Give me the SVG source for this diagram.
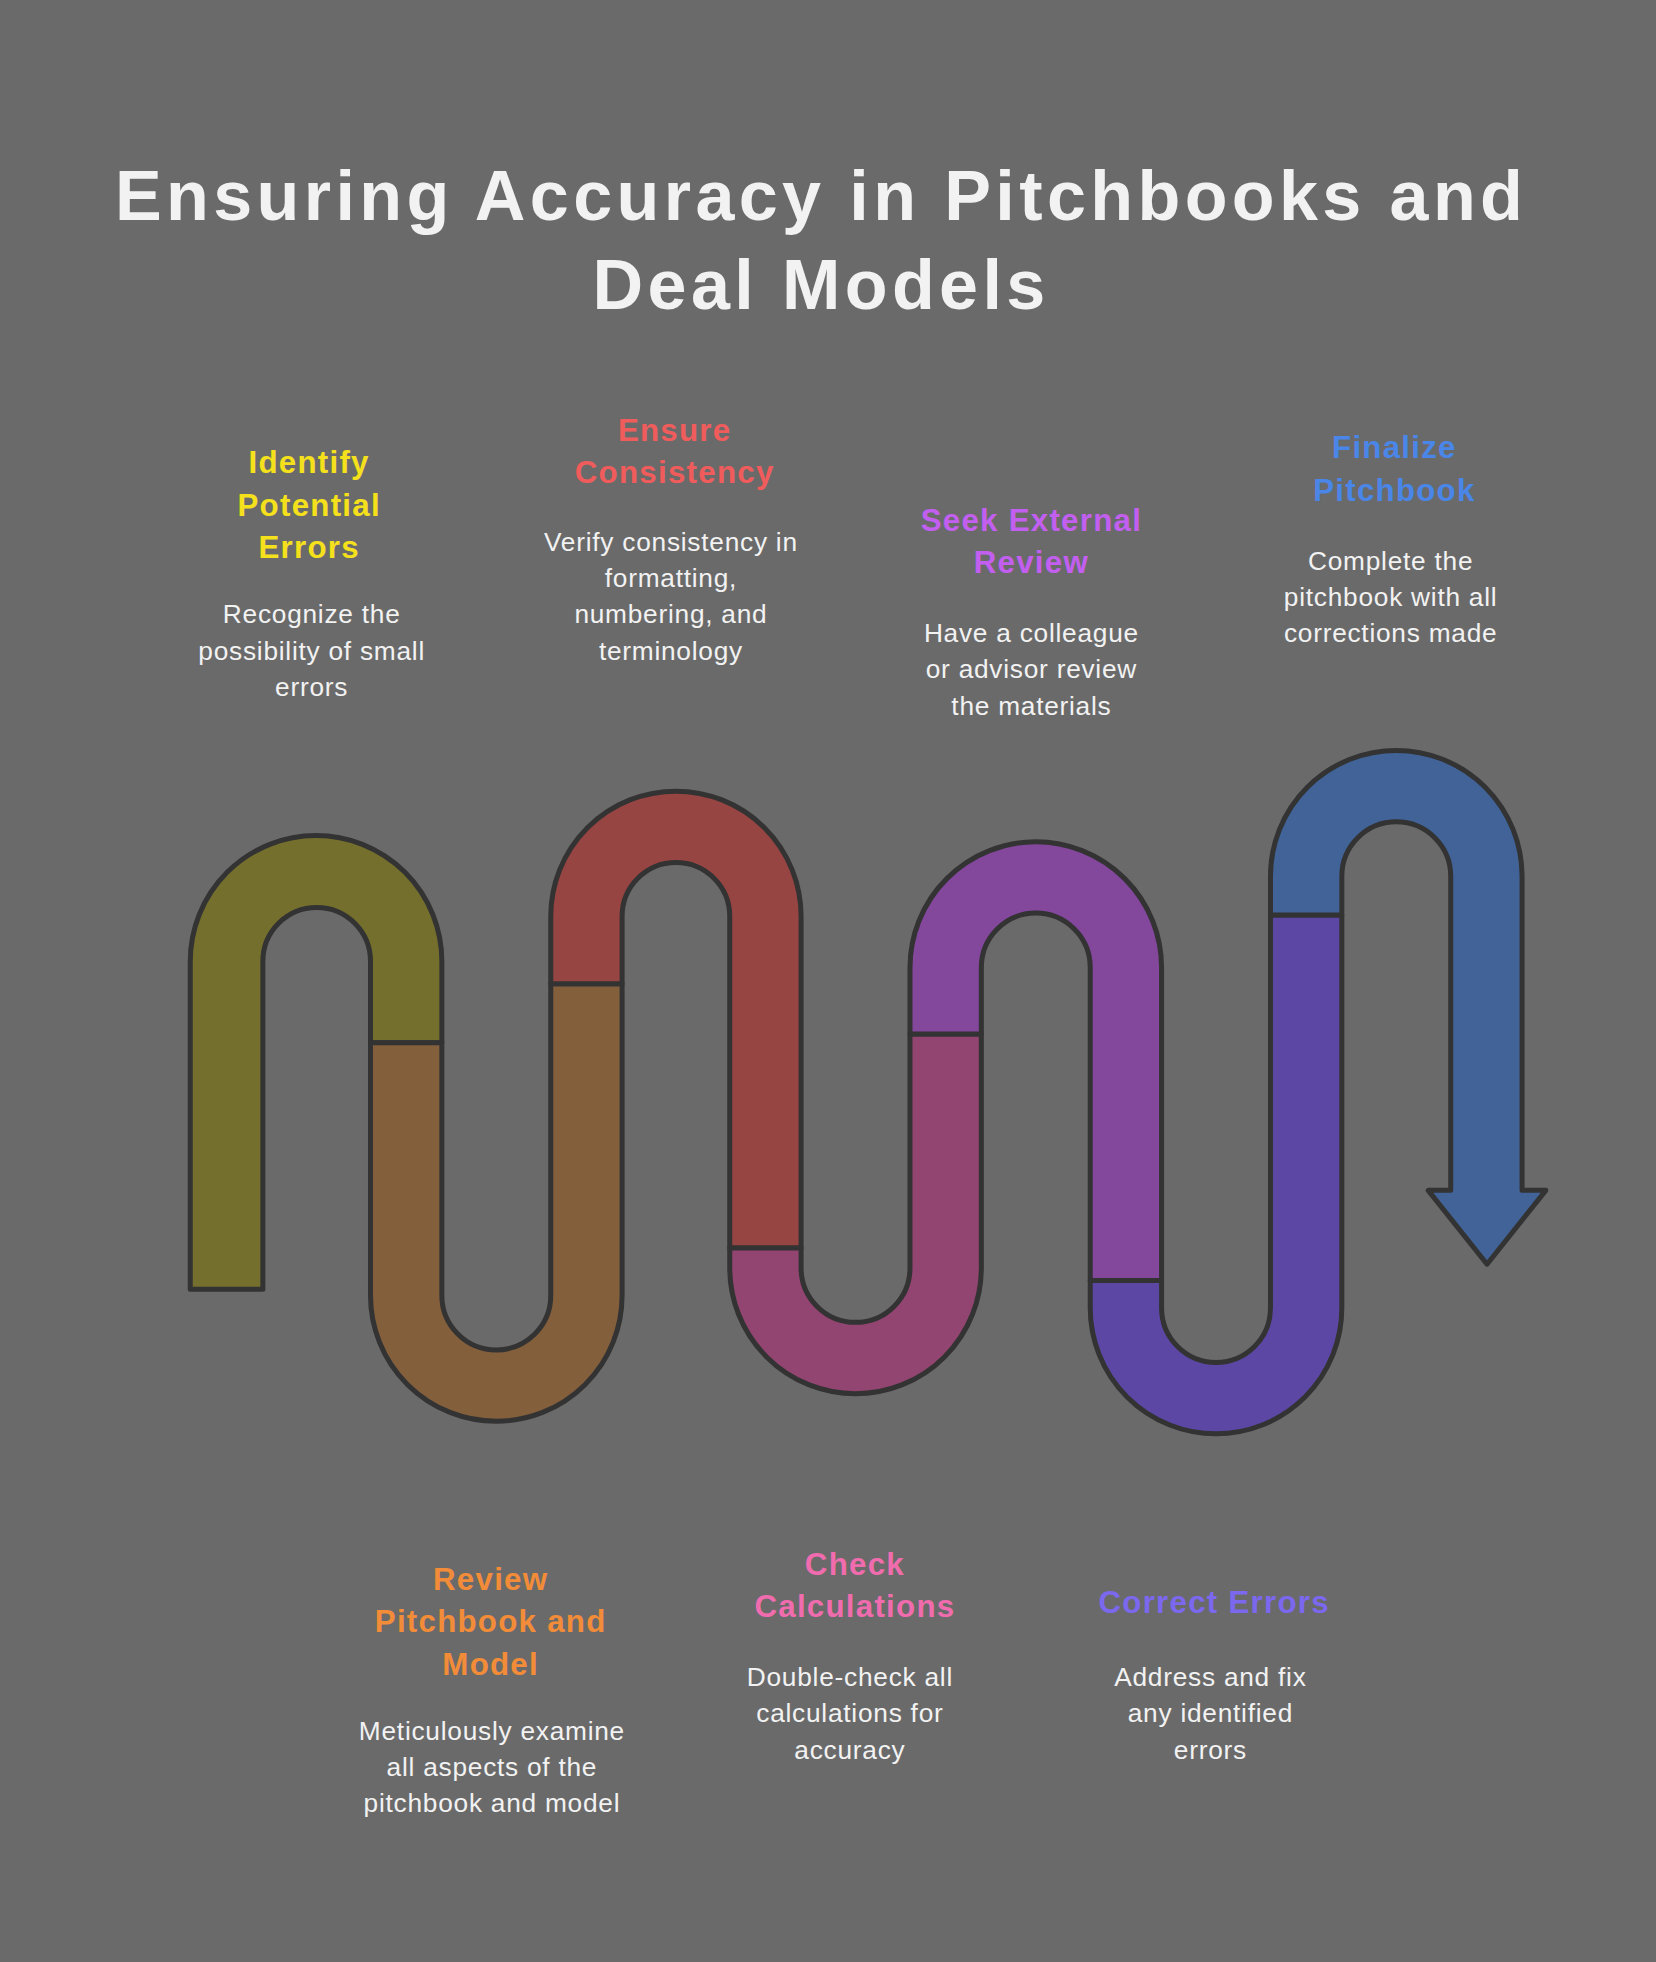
<svg xmlns="http://www.w3.org/2000/svg" width="1656" height="1962" viewBox="0 0 1656 1962">
<style>
.b{stroke:#333;stroke-width:4;stroke-linejoin:round}
.t{font-family:"Liberation Sans",Arial,sans-serif;font-weight:bold;text-anchor:middle}
.h{font-family:"Liberation Sans",Arial,sans-serif;font-weight:bold;font-size:25px;text-anchor:middle;letter-spacing:1px}
.d{font-family:"Liberation Sans",Arial,sans-serif;font-size:21px;fill:#f2f2f2;text-anchor:middle;letter-spacing:0.6px}
</style>
<rect width="1656" height="1962" fill="#6a6a6a"/>
<g transform="scale(1.2517)">
<text class="t" font-size="56" letter-spacing="3.5" fill="#f2f2f2" x="656" y="176">Ensuring Accuracy in Pitchbooks and</text>
<text class="t" font-size="56" letter-spacing="3.5" fill="#f2f2f2" x="656" y="247">Deal Models</text>
<g id="connectors">
<path class="b" fill="#756f2e" d="M152,1030 L152,768 A100.5,100.5 0 0 1 353,768 L353,833 L296,833 L296,768 A43,43 0 0 0 210,768 L210,1030 Z"/>
<path class="b" fill="#835f3c" d="M296,833 L353,833 L353,1035 A43.5,43.5 0 0 0 440,1035 L440,786 L497,786 L497,1035 A100.5,100.5 0 0 1 296,1035 Z"/>
<path class="b" fill="#974542" d="M440,786 L440,732 A100,100 0 0 1 640,732 L640,997 L583,997 L583,732 A43,43 0 0 0 497,732 L497,786 Z"/>
<path class="b" fill="#924570" d="M583,997 L640,997 L640,1013 A43.5,43.5 0 0 0 727,1013 L727,826 L784,826 L784,1013 A100.5,100.5 0 0 1 583,1013 Z"/>
<path class="b" fill="#83479c" d="M727,826 L727,773 A100.5,100.5 0 0 1 928,773 L928,1023 L871,1023 L871,773 A43.5,43.5 0 0 0 784,773 L784,826 Z"/>
<path class="b" fill="#5c48a4" d="M871,1023 L928,1023 L928,1045 A43.5,43.5 0 0 0 1015,1045 L1015,731 L1072,731 L1072,1045 A100.5,100.5 0 0 1 871,1045 Z"/>
<path class="b" fill="#416398" d="M1015,731 L1015,700 A100.5,100.5 0 0 1 1216,700 L1216,951 L1235,951 L1188,1010 L1141,951 L1159,951 L1159,700 A43.5,43.5 0 0 0 1072,700 L1072,731 Z"/>
</g>
<g id="n1"><text class="h" fill="#f5e11b"><tspan x="247" y="378">Identify</tspan><tspan x="247" y="412">Potential</tspan><tspan x="247" y="446">Errors</tspan></text>
<text class="d"><tspan x="249" y="498">Recognize the</tspan><tspan x="249" y="527">possibility of small</tspan><tspan x="249" y="556">errors</tspan></text></g>
<g id="n2"><text class="h" fill="#f05c5c"><tspan x="539" y="352">Ensure</tspan><tspan x="539" y="386">Consistency</tspan></text>
<text class="d"><tspan x="536" y="440">Verify consistency in</tspan><tspan x="536" y="469">formatting,</tspan><tspan x="536" y="498">numbering, and</tspan><tspan x="536" y="527">terminology</tspan></text></g>
<g id="n3"><text class="h" fill="#c35ff0"><tspan x="824" y="424">Seek External</tspan><tspan x="824" y="458">Review</tspan></text>
<text class="d"><tspan x="824" y="513">Have a colleague</tspan><tspan x="824" y="542">or advisor review</tspan><tspan x="824" y="571">the materials</tspan></text></g>
<g id="n4"><text class="h" fill="#4a86e8"><tspan x="1114" y="366">Finalize</tspan><tspan x="1114" y="400">Pitchbook</tspan></text>
<text class="d"><tspan x="1111" y="455">Complete the</tspan><tspan x="1111" y="484">pitchbook with all</tspan><tspan x="1111" y="513">corrections made</tspan></text></g>
<g id="n5"><text class="h" fill="#f28c38"><tspan x="392" y="1270">Review</tspan><tspan x="392" y="1304">Pitchbook and</tspan><tspan x="392" y="1338">Model</tspan></text>
<text class="d"><tspan x="393" y="1390">Meticulously examine</tspan><tspan x="393" y="1419">all aspects of the</tspan><tspan x="393" y="1448">pitchbook and model</tspan></text></g>
<g id="n6"><text class="h" fill="#f06cae"><tspan x="683" y="1258">Check</tspan><tspan x="683" y="1292">Calculations</tspan></text>
<text class="d"><tspan x="679" y="1347">Double-check all</tspan><tspan x="679" y="1376">calculations for</tspan><tspan x="679" y="1405">accuracy</tspan></text></g>
<g id="n7"><text class="h" fill="#7b68ee"><tspan x="970" y="1289">Correct Errors</tspan></text>
<text class="d"><tspan x="967" y="1347">Address and fix</tspan><tspan x="967" y="1376">any identified</tspan><tspan x="967" y="1405">errors</tspan></text></g>
</g>
</svg>
